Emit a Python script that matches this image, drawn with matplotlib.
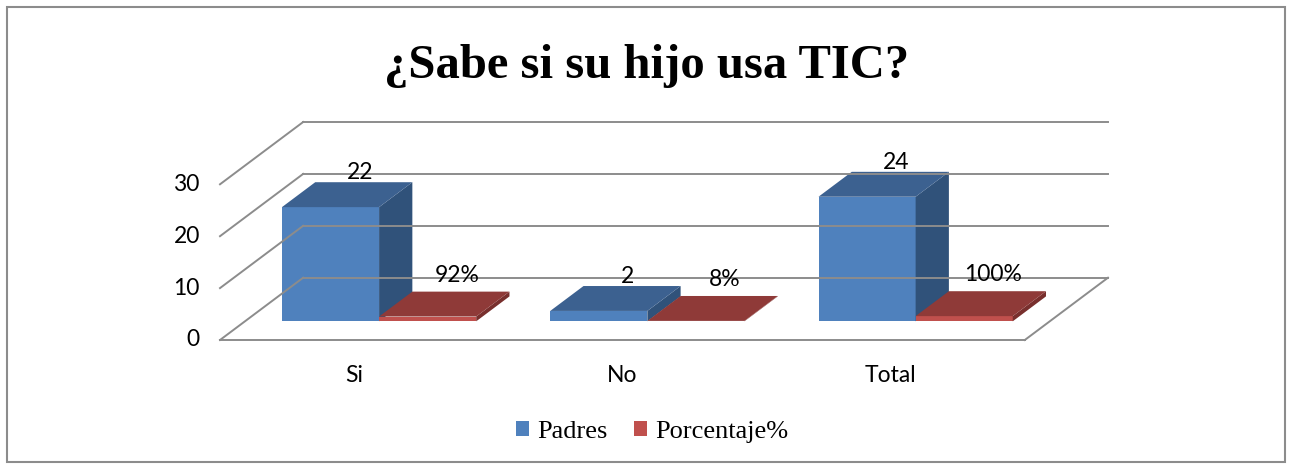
import numpy as np
import matplotlib
matplotlib.use('Agg')
import matplotlib.pyplot as plt
from matplotlib.patches import Polygon, Patch, Rectangle

# Data
categories = ['Si', 'No', 'Total']
padres = [22, 2, 24]
porcentaje = [0.92, 0.08, 1.00]
porcentaje_labels = ['92%', '8%', '100%']
series_names = ['Padres', 'Porcentaje%']
yticks = [0, 10, 20, 30]

# colours (front, top, side)
blue = ('#4F81BD', '#3C6190', '#30527A')
red = ('#C0504D', '#8F3A38', '#782F2D')
grid_color = '#8C8C8C'

# oblique projection of the floor depth
DX, DZ = 0.31, 12.0
bar_w = 0.362
d0, d1 = 0.3, 0.7
lab_size = 16.5


def proj(x, d, z):
    return (x + d * DX, z + d * DZ)


def draw_bar(ax, x0, w, h, cols):
    front, top, side = cols
    x1 = x0 + w
    ax.add_patch(Polygon([proj(x0, d0, 0), proj(x1, d0, 0), proj(x1, d0, h), proj(x0, d0, h)],
                         closed=True, facecolor=front, edgecolor='none', clip_on=False))
    ax.add_patch(Polygon([proj(x1, d0, 0), proj(x1, d1, 0), proj(x1, d1, h), proj(x1, d0, h)],
                         closed=True, facecolor=side, edgecolor='none', clip_on=False))
    ax.add_patch(Polygon([proj(x0, d0, h), proj(x1, d0, h), proj(x1, d1, h), proj(x0, d1, h)],
                         closed=True, facecolor=top, edgecolor='none', clip_on=False))


fig = plt.figure(figsize=(12.93, 4.68), dpi=100)
W, H = 1293, 468
ax = fig.add_axes([220 / W, (468 - 340) / H, 892 / W, 218 / H])
ax.set_xlim(0, 3 + DX + 0.015)
ax.set_ylim(0, 30 + DZ)
ax.axis('off')

# walls / gridlines
for z in yticks:
    ax.plot(*zip(proj(0, 0, z), proj(0, 1, z)), color=grid_color, lw=1.4, clip_on=False)
    ax.plot(*zip(proj(0, 1, z), proj(3, 1, z)), color=grid_color, lw=1.4, clip_on=False)
ax.plot(*zip(proj(0, 0, 0), proj(3, 0, 0)), color=grid_color, lw=1.4, clip_on=False)
ax.plot(*zip(proj(3, 0, 0), proj(3, 1, 0)), color=grid_color, lw=1.4, clip_on=False)

for z in yticks:
    ax.text(-0.075, z, str(z), ha='right', va='center', fontsize=lab_size, family='Lato')

for i, cat in enumerate(categories):
    ax.text(i + 0.5, -6.8, cat, ha='center', va='center', fontsize=lab_size, family='Lato')

gap = (1 - 2 * bar_w) / 2
for i in range(len(categories)):
    xb = i + gap
    xr = xb + bar_w
    draw_bar(ax, xb, bar_w, padres[i], blue)
    draw_bar(ax, xr, bar_w, porcentaje[i], red)
    lx, ly = proj(xb + bar_w / 2, 0.65, padres[i])
    ax.annotate(str(padres[i]), (lx, ly), xytext=(0, 9), textcoords='offset points',
                ha='center', va='center', fontsize=lab_size, family='Lato', annotation_clip=False)
    lx, ly = proj(xr + bar_w / 2, 0.65, porcentaje[i])
    ax.annotate(porcentaje_labels[i], (lx, ly), xytext=(0, 14), textcoords='offset points',
                ha='center', va='center', fontsize=lab_size, family='Lato', annotation_clip=False)

fig.text(0.5, 1 - 66 / H, '¿Sabe si su hijo usa TIC?', ha='center', va='center',
         fontsize=35, fontweight='bold', family='Liberation Serif')

handles = [Patch(facecolor=blue[0]), Patch(facecolor=red[0])]
fig.legend(handles, series_names, loc='center', bbox_to_anchor=(652 / W, 1 - 432 / H), ncol=2,
           frameon=False, prop={'family': 'Liberation Serif', 'size': 19},
           handlelength=0.5, handleheight=0.5, handletextpad=0.3, columnspacing=1.0)

fig.add_artist(Rectangle((7 / W, 6 / H), 1278 / W, 455 / H, transform=fig.transFigure,
                         fill=False, edgecolor='#8C8C8C', lw=1.5))

fig.savefig('out.png', dpi=100)
